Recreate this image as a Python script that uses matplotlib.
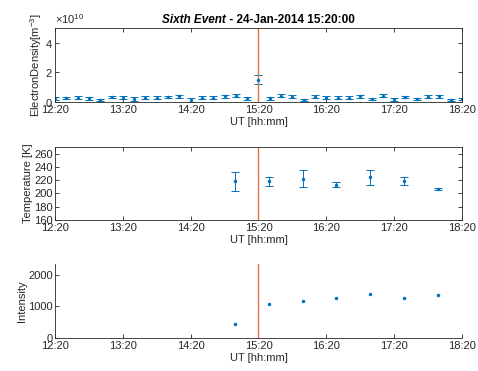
import numpy as np
import matplotlib
matplotlib.use('Agg')
import matplotlib.pyplot as plt
from matplotlib.ticker import ScalarFormatter

plt.rcParams['font.family'] = ['Liberation Sans', 'DejaVu Sans']
plt.rcParams['mathtext.fontset'] = 'custom'
plt.rcParams['mathtext.rm'] = 'Liberation Sans'

# data
ne_times = ['12:20', '12:30', '12:40', '12:50', '13:00', '13:10', '13:20', '13:30',
            '13:40', '13:50', '14:00', '14:10', '14:20', '14:30', '14:40', '14:50',
            '15:00', '15:10', '15:20', '15:30', '15:40', '15:50', '16:00', '16:10',
            '16:20', '16:30', '16:40', '16:50', '17:00', '17:10', '17:20', '17:30',
            '17:40', '17:50', '18:00', '18:10', '18:20']
ne_vals = [0.27, 0.27, 0.30, 0.27, 0.12, 0.33, 0.30, 0.22, 0.30, 0.30, 0.32, 0.40,
           0.15, 0.30, 0.30, 0.38, 0.42, 0.25, 1.50, 0.25, 0.42, 0.35, 0.15, 0.35,
           0.30, 0.28, 0.30, 0.40, 0.20, 0.42, 0.20, 0.35, 0.22, 0.35, 0.40, 0.15, 0.20]
ne_vals = np.array(ne_vals) * 1e10
ne_err = [0.10, 0.08, 0.08, 0.10, 0.06, 0.08, 0.10, 0.12, 0.12, 0.12, 0.08, 0.10,
          0.12, 0.10, 0.10, 0.10, 0.10, 0.08, 0.30, 0.08, 0.10, 0.10, 0.06, 0.10,
          0.12, 0.10, 0.08, 0.10, 0.08, 0.10, 0.10, 0.08, 0.08, 0.10, 0.10, 0.06, 0.08]
ne_err = np.array(ne_err) * 1e10

t_times = ['14:59', '15:29', '15:59', '16:29', '16:59', '17:29', '17:59']
temp_vals = [218, 218, 222, 213, 224, 218, 206]
temp_err = [14, 7, 13, 3.7, 11, 6, 1.5]

int_vals = [440, 1070, 1165, 1280, 1405, 1280, 1375]

tick_labels = ['12:20', '13:20', '14:20', '15:20', '16:20', '17:20', '18:20']
event_time = '15:20'
title_bold_italic = 'Sixth Event'
title_rest = ' - 24-Jan-2014 15:20:00'


def minutes(s):
    h, m = s.split(':')
    return int(h) * 60 + int(m)


blue = '#0072BD'
red = '#E0704C'
grey = '#262626'
fs = 8

x_ticks = [minutes(s) for s in tick_labels]
x_ev = minutes(event_time)

fig = plt.figure(figsize=(4.78, 3.71), dpi=100)
ax1 = fig.add_axes([0.115, 0.725, 0.8515, 0.1995])
ax2 = fig.add_axes([0.115, 0.407, 0.8515, 0.197])
ax3 = fig.add_axes([0.115, 0.089, 0.8515, 0.1995])


def style(ax, box=True):
    ax.set_xlim(x_ticks[0], x_ticks[-1])
    ax.set_xticks(x_ticks)
    ax.set_xticklabels(tick_labels)
    ax.tick_params(direction='in', length=3, width=0.6, colors=grey,
                   labelsize=fs, pad=1.5, top=box, right=box)
    ax.tick_params(axis='x', pad=2.5)
    for sp in ax.spines.values():
        sp.set_color(grey)
        sp.set_linewidth(0.6)
    if not box:
        ax.spines['top'].set_visible(False)
        ax.spines['right'].set_visible(False)
    ax.set_xlabel('UT [hh:mm]', fontsize=fs, color=grey, labelpad=1)


# electron density
ax1.errorbar([minutes(s) for s in ne_times], ne_vals, yerr=ne_err, fmt='.',
             color=blue, ms=3, elinewidth=0.7, capsize=3, capthick=0.7)
ax1.axvline(x_ev, color=red, lw=1)
ax1.set_ylim(0, 5e10)
ax1.set_yticks([0, 2e10, 4e10])
ax1.yaxis.set_major_formatter(ScalarFormatter(useMathText=True))
style(ax1)
ax1.yaxis.get_offset_text().set_fontsize(fs)
ax1.yaxis.get_offset_text().set_color(grey)
ax1.set_ylabel('ElectronDensity[m$^{-3}$]', fontsize=fs, color=grey, labelpad=1)

# title: first part bold italic, rest bold, centred together
t1 = ax1.text(0.5, 1.03, title_bold_italic, transform=ax1.transAxes,
              fontsize=8.5, fontweight='bold', style='italic', va='bottom', ha='left')
t2 = ax1.text(0.5, 1.03, title_rest, transform=ax1.transAxes,
              fontsize=8.5, fontweight='bold', va='bottom', ha='left')
fig.canvas.draw()
r = fig.canvas.get_renderer()
w1 = t1.get_window_extent(r).width
w2 = t2.get_window_extent(r).width
axw = ax1.get_window_extent(r).width
x0 = 0.5 - (w1 + w2) / 2 / axw
t1.set_x(x0)
t2.set_x(x0 + w1 / axw)

# temperature
ax2.errorbar([minutes(s) for s in t_times], temp_vals, yerr=temp_err, fmt='.',
             color=blue, ms=3, elinewidth=0.7, capsize=3, capthick=0.7)
ax2.axvline(x_ev, color=red, lw=1)
ax2.set_ylim(160, 270)
ax2.set_yticks([160, 180, 200, 220, 240, 260])
style(ax2)
ax2.set_ylabel('Temperature [K]', fontsize=fs, color=grey, labelpad=1)

# intensity
ax3.plot([minutes(s) for s in t_times], int_vals, '.', color=blue, ms=3)
ax3.axvline(x_ev, color=red, lw=1)
ax3.set_ylim(0, 2350)
ax3.set_yticks([0, 1000, 2000])
style(ax3, box=False)
ax3.set_ylabel('Intensity', fontsize=fs, color=grey, labelpad=1)

fig.savefig('out.png', dpi=100)
